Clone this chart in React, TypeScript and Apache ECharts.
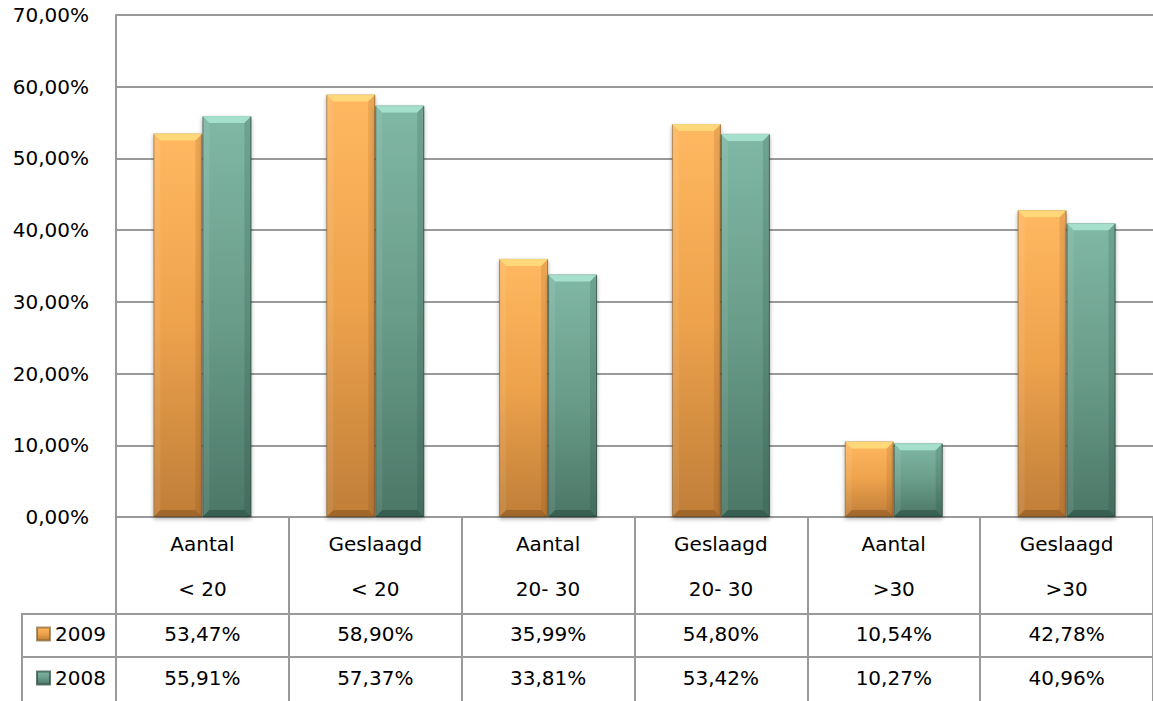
import React, { useEffect, useRef } from "react";
import * as echarts from "echarts";

const catLine1 = ["Aantal", "Geslaagd", "Aantal", "Geslaagd", "Aantal", "Geslaagd"];
const catLine2 = ["< 20", "< 20", "20- 30", "20- 30", ">30", ">30"];
const values2009 = [53.47, 58.9, 35.99, 54.8, 10.54, 42.78];
const values2008 = [55.91, 57.37, 33.81, 53.42, 10.27, 40.96];
const seriesNames = ["2009", "2008"];

const FONT = "DejaVu Sans";
const FS = 20;
const fmt = (v: number) => v.toFixed(2).replace(".", ",") + "%";

const orangeGrad = new echarts.graphic.LinearGradient(0, 0, 0, 1, [
  { offset: 0, color: "#FFB860" },
  { offset: 0.5, color: "#EDA24C" },
  { offset: 1, color: "#C07E38" },
]);
const tealGrad = new echarts.graphic.LinearGradient(0, 0, 0, 1, [
  { offset: 0, color: "#7FB8A5" },
  { offset: 0.5, color: "#6A9D8A" },
  { offset: 1, color: "#4C7767" },
]);

function bevel(side: number, topColor: string, leftColor: string, rightColor: string, bottomColor: string) {
  return (params: any, api: any) => {
    const cat = api.value(0);
    const v = api.value(1);
    const p = api.coord([cat, v]);
    const base = api.coord([cat, 0]);
    const catW = api.size([1, 0])[0];
    const bw = (catW * 49) / 173;
    const x0 = side === 0 ? p[0] - bw : p[0];
    const x1 = x0 + bw;
    const y = p[1];
    const yb = base[1];
    const b = Math.min(7, (yb - y) / 3);
    return {
      type: "group",
      children: [
        {
          type: "polygon",
          shape: { points: [[x0, y], [x1, y], [x1 - b, y + b], [x0 + b, y + b]] },
          style: { fill: topColor },
        },
        {
          type: "polygon",
          shape: { points: [[x0, y], [x0 + b, y + b], [x0 + b, yb - b], [x0, yb]] },
          style: { fill: leftColor },
        },
        {
          type: "polygon",
          shape: { points: [[x1, y], [x1 - b, y + b], [x1 - b, yb - b], [x1, yb]] },
          style: { fill: rightColor },
        },
        {
          type: "polygon",
          shape: { points: [[x0, yb], [x0 + b, yb - b], [x1 - b, yb - b], [x1, yb]] },
          style: { fill: bottomColor },
        },
      ],
    };
  };
}

export default function App() {
  const ref = useRef<HTMLDivElement>(null);
  useEffect(() => {
    if (!ref.current) return;
    const chart = echarts.init(ref.current, null, { renderer: "svg" });
    const option: any = {
      animation: false,
      backgroundColor: "#ffffff",
      textStyle: { fontFamily: FONT },
      grid: { left: 116, right: 0, top: 15, bottom: 184, containLabel: false },
      legend: {
        data: seriesNames,
        orient: "vertical",
        left: 31,
        top: 619,
        itemWidth: 13,
        itemHeight: 13,
        itemGap: 24,
        icon: "rect",
        textStyle: { fontFamily: FONT, fontSize: FS, color: "#000", lineHeight: 20, padding: [0, 0, 0, 0] },
      },
      xAxis: {
        type: "category",
        data: catLine1,
        axisLine: { show: true, lineStyle: { color: "#9A9A9A", width: 2 } },
        axisTick: { show: true, length: 184, lineStyle: { color: "#9A9A9A", width: 2 } },
        axisLabel: {
          interval: 0,
          margin: 5,
          fontFamily: FONT,
          fontSize: FS,
          color: "#000",
          lineHeight: 44.7,
          formatter: (_v: string, i: number) =>
            `${catLine1[i]}\n${catLine2[i]}\n${fmt(values2009[i])}\n${fmt(values2008[i])}`,
        },
      },
      yAxis: {
        type: "value",
        min: 0,
        max: 70,
        interval: 10,
        axisLine: { show: true, lineStyle: { color: "#9A9A9A", width: 2 } },
        axisTick: { show: false },
        splitLine: { show: true, lineStyle: { color: "#9A9A9A", width: 2 } },
        axisLabel: {
          margin: 27,
          fontFamily: FONT,
          fontSize: FS,
          color: "#000",
          formatter: (v: number) => fmt(v),
        },
      },
      graphic: [
        { type: "line", shape: { x1: 22, y1: 614, x2: 1153, y2: 614 }, style: { stroke: "#9A9A9A", lineWidth: 2 } },
        { type: "line", shape: { x1: 22, y1: 657, x2: 1153, y2: 657 }, style: { stroke: "#9A9A9A", lineWidth: 2 } },
        { type: "line", shape: { x1: 22, y1: 613, x2: 22, y2: 701 }, style: { stroke: "#9A9A9A", lineWidth: 2 } },
      ],
      series: [
        {
          name: seriesNames[0],
          type: "bar",
          data: values2009,
          barWidth: 49,
          barGap: "0%",
          itemStyle: {
            color: orangeGrad,
            borderColor: "rgba(120,80,30,0.6)",
            borderWidth: 1,
            shadowColor: "rgba(0,0,0,0.35)",
            shadowBlur: 4,
            shadowOffsetY: 2,
          },
        },
        {
          name: seriesNames[1],
          type: "bar",
          data: values2008,
          barWidth: 49,
          barGap: "0%",
          itemStyle: {
            color: tealGrad,
            borderColor: "rgba(40,70,60,0.7)",
            borderWidth: 1,
            shadowColor: "rgba(0,0,0,0.35)",
            shadowBlur: 4,
            shadowOffsetY: 2,
          },
        },
        {
          type: "custom",
          name: "bevel2009",
          z: 5,
          silent: true,
          data: values2009.map((v, i) => [i, v]),
          encode: { x: 0, y: 1 },
          renderItem: bevel(0, "rgba(255,220,125,0.9)", "rgba(255,255,255,0.08)", "rgba(120,70,20,0.15)", "rgba(90,50,10,0.3)"),
        },
        {
          type: "custom",
          name: "bevel2008",
          z: 5,
          silent: true,
          data: values2008.map((v, i) => [i, v]),
          encode: { x: 0, y: 1 },
          renderItem: bevel(1, "rgba(170,228,208,0.9)", "rgba(255,255,255,0.08)", "rgba(20,50,40,0.15)", "rgba(10,40,30,0.3)"),
        },
      ],
    };
    chart.setOption(option);
    return () => chart.dispose();
  }, []);
  return (
    <div
      ref={ref}
      style={{ position: "absolute", left: 0, top: 0, width: 1153, height: 701 }}
    />
  );
}
